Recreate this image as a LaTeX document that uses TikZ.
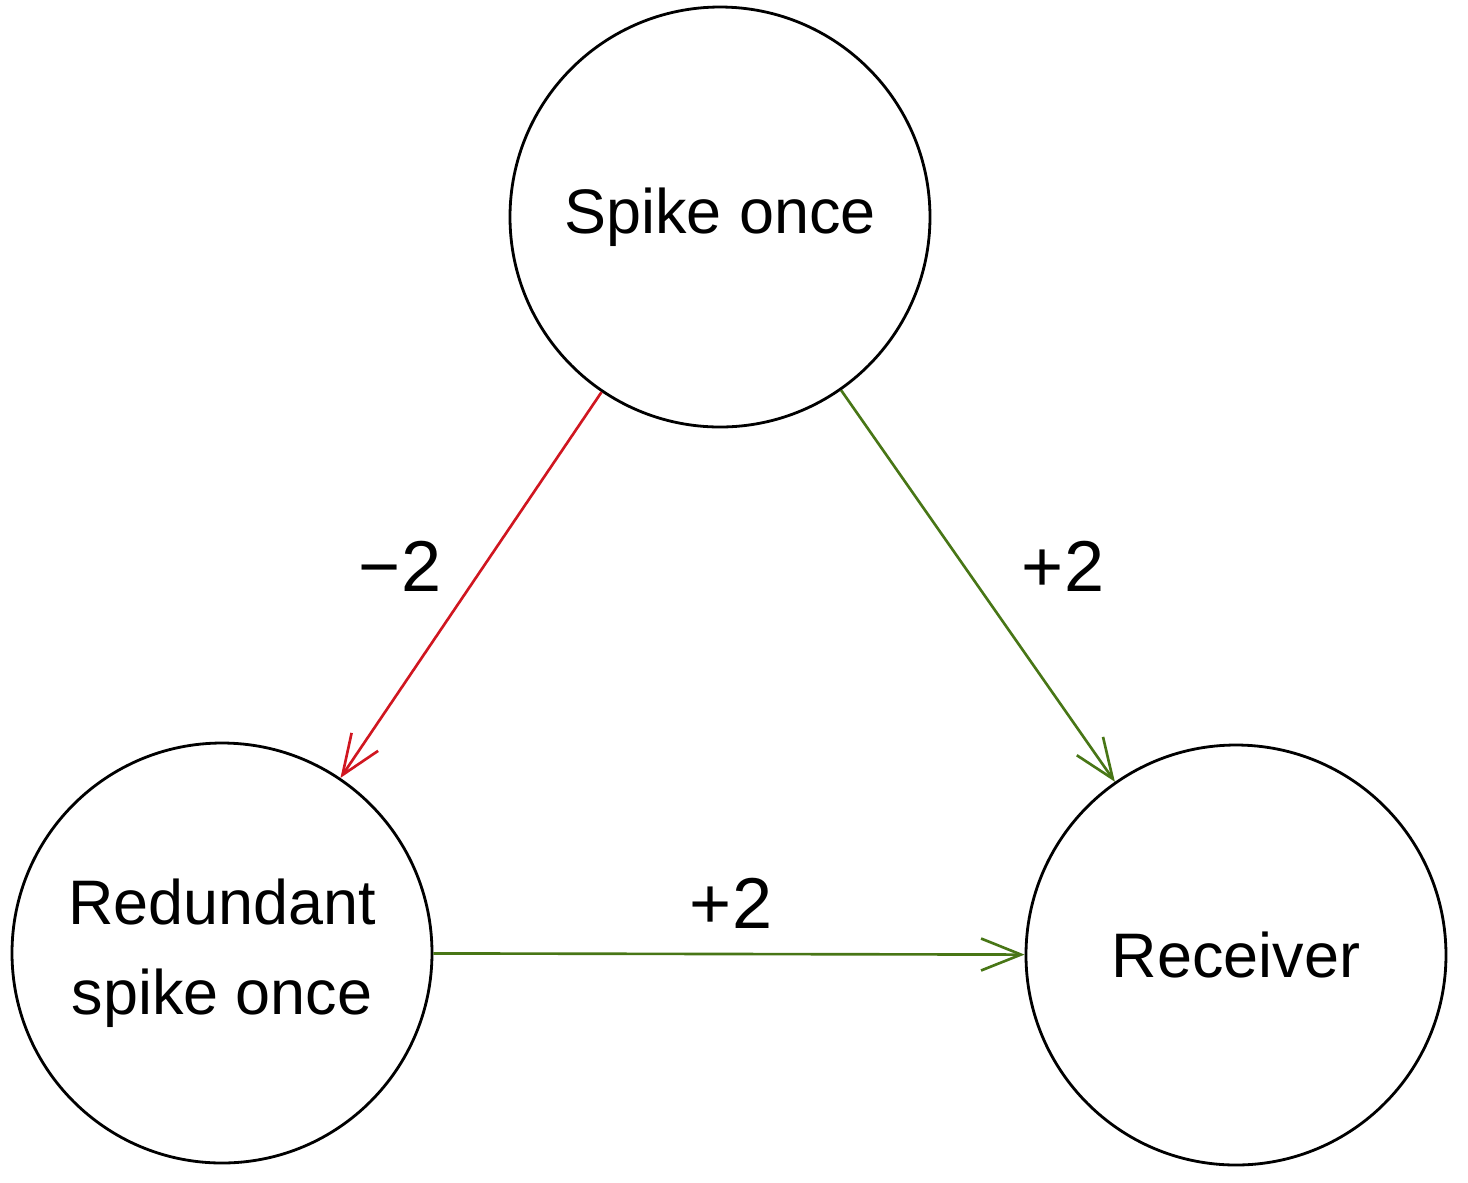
\documentclass[tikz,border=0pt]{standalone}
\usepackage{fontspec}
\setmainfont{Liberation Sans}
\usetikzlibrary{arrows.meta}
\definecolor{inhib}{RGB}{208,22,32}
\definecolor{excit}{RGB}{72,118,22}

\begin{document}
\begin{tikzpicture}[font=\fontsize{17.9}{25.6}\selectfont,
  neuron/.style={draw, circle, line width=0.8pt, minimum size=4.2cm, inner sep=0pt, align=center},
  syn/.style={line width=0.75pt, -{Straight Barb[length=0.4cm, width=0.32cm, line width=0.75pt]}},
  weight/.style={font=\fontsize{20.5}{24}\selectfont}]
  \useasboundingbox (0,0) rectangle (14.68,-11.82);
  \node[neuron] (spike) at (7.20,-2.17) {Spike once};
  \node[neuron] (redund) at (2.22,-9.53) {Redundant\\spike once};
  \node[neuron] (recv) at (12.36,-9.55) {Receiver};
  \draw[syn, inhib] (spike) -- (redund);
  \draw[syn, excit] (spike) -- (recv);
  \draw[syn, excit] (redund) -- (recv);
  \node[weight] (wneg) at (4.00,-5.66) {−2};
  \node[weight] (wpos) at (10.63,-5.66) {+2};
  \node[weight] (wbot) at (7.31,-9.03) {+2};
\end{tikzpicture}
\end{document}
